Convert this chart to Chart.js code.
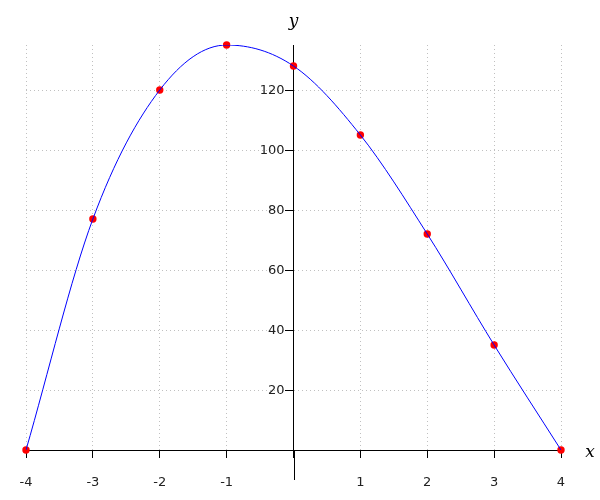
<!DOCTYPE html>
<html>
<head>
<meta charset="utf-8">
<script src="https://cdn.jsdelivr.net/npm/chart.js@4"></script>
<style>
  body { margin: 0; background: #fff; }
  #wrap { width: 600px; height: 500px; }
</style>
</head>
<body>
<div id="wrap"><canvas id="curve" width="600" height="500"></canvas></div>
<script>
const xValues = [-4, -3, -2, -1, 0, 1, 2, 3, 4];
const yValues = [0, 77, 120, 135, 128, 105, 72, 35, 0];
const xTicks = [-4, -3, -2, -1, 0, 1, 2, 3, 4];
const yTicks = [20, 40, 60, 80, 100, 120];

const points = xValues.map((x, i) => ({ x: x, y: yValues[i] }));

// y axis runs a bit below the x axis, y tick labels left of the centre axis, italic x / y names
const extras = {
  id: 'extras',
  afterDraw(chart) {
    const { ctx, chartArea } = chart;
    const yScale = chart.scales.y;
    const x0 = Math.round(chart.scales.x.getPixelForValue(0)) + 0.5;
    ctx.save();
    ctx.strokeStyle = '#000';
    ctx.lineWidth = 1;
    ctx.beginPath();
    ctx.moveTo(x0, chartArea.bottom);
    ctx.lineTo(x0, chartArea.bottom + 30);
    ctx.stroke();

    ctx.fillStyle = '#222';
    ctx.font = '13px "DejaVu Sans"';
    ctx.textAlign = 'right';
    ctx.textBaseline = 'middle';
    yTicks.forEach(v => {
      ctx.fillText(String(v), x0 - 10, yScale.getPixelForValue(v) + 1);
    });

    ctx.fillStyle = '#000';
    ctx.font = 'italic 17px "DejaVu Serif"';
    ctx.textAlign = 'center';
    ctx.fillText('x', chartArea.right + 29, chartArea.bottom + 3);
    ctx.fillText('y', x0 - 1, chartArea.top - 23);
    ctx.restore();
  }
};

new Chart(document.getElementById('curve'), {
  type: 'line',
  data: {
    datasets: [{
      data: points,
      borderColor: '#0000ff',
      borderWidth: 1,
      pointRadius: 0,
      cubicInterpolationMode: 'monotone',
      fill: false,
      clip: 0
    }, {
      type: 'scatter',
      data: points,
      showLine: false,
      pointRadius: 3.7,
      pointBackgroundColor: '#ff0000',
      pointBorderWidth: 0,
      clip: false
    }]
  },
  options: {
    responsive: false,
    animation: false,
    devicePixelRatio: 1,
    layout: { padding: { left: 26, right: 39, top: 45, bottom: 0 } },
    plugins: {
      legend: { display: false },
      tooltip: { enabled: false }
    },
    scales: {
      x: {
        type: 'linear',
        position: 'bottom',
        min: -4,
        max: 4,
        afterBuildTicks: s => { s.ticks = xTicks.map(v => ({ value: v })); },
        afterFit: s => { s.height = 50; },
        ticks: {
          color: '#222',
          padding: 17,
          font: { family: 'DejaVu Sans', size: 13 },
          callback: v => v === 0 ? '' : String(v)
        },
        grid: {
          color: '#c0c0c0',
          lineWidth: 1,
          tickColor: '#000',
          tickLength: 8
        },
        border: { color: '#000', width: 1, dash: [1, 3] }
      },
      y: {
        type: 'linear',
        position: { x: 0 },
        min: 0,
        max: 135,
        afterBuildTicks: s => { s.ticks = yTicks.map(v => ({ value: v })); },
        ticks: { display: false },
        grid: {
          color: '#c0c0c0',
          lineWidth: 1,
          tickColor: '#000',
          tickLength: 8
        },
        border: { color: '#000', width: 1, dash: [1, 3] }
      }
    }
  },
  plugins: [extras]
});
</script>
</body>
</html>
